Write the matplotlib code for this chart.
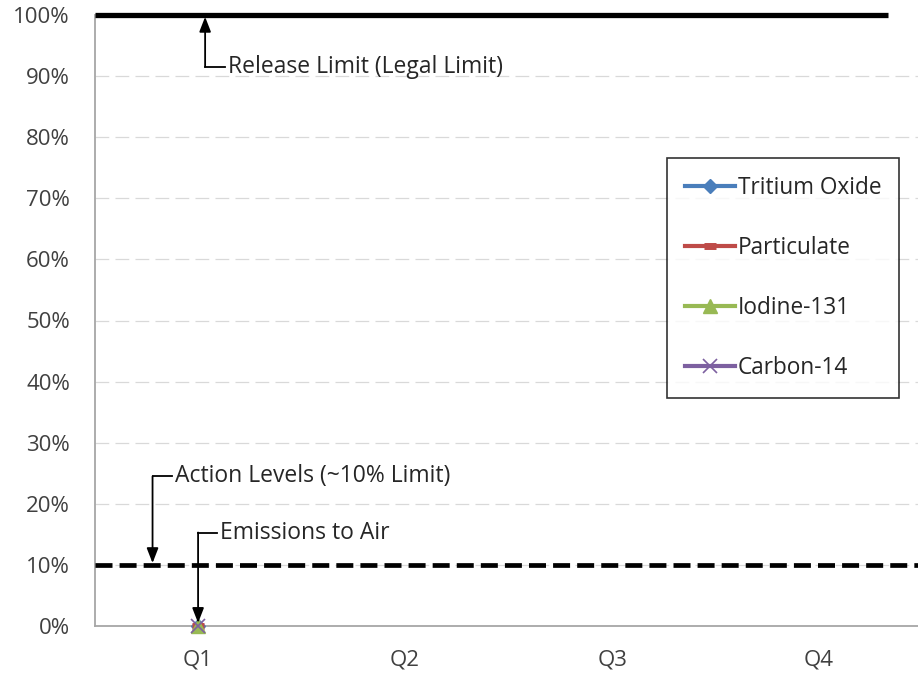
import numpy as np
import matplotlib
matplotlib.use("Agg")
import matplotlib.pyplot as plt
from matplotlib.ticker import PercentFormatter

plt.rcParams['font.family'] = ['Open Sans', 'DejaVu Sans']

quarters = ["Q1", "Q2", "Q3", "Q4"]
tritium_oxide = [0.0, np.nan, np.nan, np.nan]
particulate = [0.0, np.nan, np.nan, np.nan]
iodine_131 = [0.0, np.nan, np.nan, np.nan]
carbon_14 = [0.0, np.nan, np.nan, np.nan]
release_limit = 1.00
action_level = 0.10

W, H = 918, 673
fig = plt.figure(figsize=(W / 100, H / 100), dpi=100)
ax = fig.add_axes([95 / W, 1 - 626 / H, (918 - 95) / W, (626 - 15) / H])

x = np.arange(1, len(quarters) + 1)
ax.set_xlim(0.502, 4.478)
ax.set_ylim(0, 1)

# grid
for yv in np.arange(0.1, 1.0, 0.1):
    ax.axhline(yv, color='#d9d9d9', lw=0.9, dashes=(11, 5), zorder=0)

# limit lines
ax.plot([0.502, 4.335], [release_limit, release_limit], color='black', lw=3.8,
        solid_capstyle='butt', clip_on=False, zorder=3)
ax.axhline(action_level, color='black', lw=3.4, dashes=(3.6, 1.5), zorder=3)

series = [
    ("Tritium Oxide", tritium_oxide, '#4a7ebb', 'D', dict(markersize=7)),
    ("Particulate", particulate, '#be4b48', '_', dict(markersize=9, markeredgewidth=5)),
    ("Iodine-131", iodine_131, '#98b954', '^', dict(markersize=10)),
    ("Carbon-14", carbon_14, '#7d60a0', 'x', dict(markersize=10, markeredgewidth=1.2)),
]
for name, vals, col, mk, kw in series:
    ax.plot(x, vals, color=col, lw=3, marker=mk, markerfacecolor=col,
            markeredgecolor=col, label=name, clip_on=False, zorder=4, **kw)

# annotations with elbow arrows
fs = 16.5
def elbow(tx, ty, cx, tgt_y, text):
    ax.plot([cx, tx], [ty, ty], color='black', lw=1.3, zorder=5, clip_on=False)
    ax.annotate('', xy=(cx, tgt_y), xytext=(cx, ty),
                arrowprops=dict(arrowstyle='-|>,head_length=0.9,head_width=0.35',
                                color='black', lw=1.3, shrinkA=0, shrinkB=0),
                zorder=5, annotation_clip=False)
    ax.text(tx + 0.015, ty, text, fontsize=fs, color='#262626', va='center', ha='left')

elbow(1.13, 0.915, 1.034, 0.997, "Release Limit (Legal Limit)")
elbow(0.875, 0.245, 0.78, 0.103, "Action Levels (~10% Limit)")
elbow(1.09, 0.153, 1.0, 0.005, "Emissions to Air")

# axes styling
ax.yaxis.set_major_formatter(PercentFormatter(1.0, decimals=0))
ax.set_yticks(np.arange(0, 1.01, 0.1))
ax.set_xticks(x)
ax.set_xticklabels(quarters)
ax.tick_params(axis='both', length=0, labelsize=16, colors='#404040')
ax.tick_params(axis='x', pad=17)
ax.tick_params(axis='y', pad=18)
for s in ['top', 'right']:
    ax.spines[s].set_visible(False)
for s in ['left', 'bottom']:
    ax.spines[s].set_color('#a6a6a6')
    ax.spines[s].set_linewidth(1.3)

leg = ax.legend(loc='upper left', bbox_to_anchor=(667 / W, 1 - 158 / H),
                bbox_transform=fig.transFigure, fontsize=16.3, frameon=True,
                fancybox=False, edgecolor='black', labelspacing=1.59,
                handlelength=2.2, handletextpad=0.13, borderpad=0.8,
                borderaxespad=0, markerscale=1.0)
leg.get_frame().set_linewidth(1.2)
for t in leg.get_texts():
    t.set_color('#262626')

fig.savefig("out.png", dpi=100)
